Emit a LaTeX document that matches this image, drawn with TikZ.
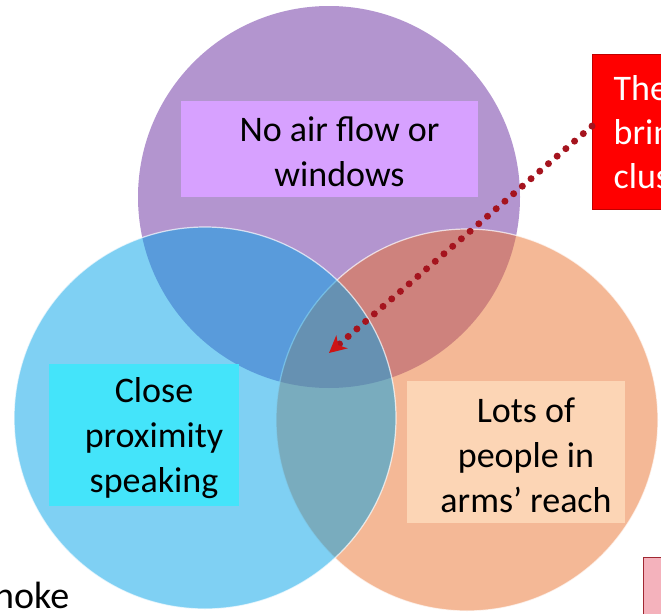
\documentclass[tikz,border=0pt]{standalone}
\usepackage{fontspec}
\setmainfont{Carlito}
\usepackage{tikz}
\usetikzlibrary{arrows.meta,positioning}
\definecolor{airfill}{RGB}{179,149,207}
\definecolor{crowdfill}{RGB}{233,113,45}
\definecolor{speakfill}{RGB}{0,161,231}
\definecolor{airboxfill}{RGB}{215,161,255}
\definecolor{speakboxfill}{RGB}{68,228,250}
\definecolor{crowdboxfill}{RGB}{252,213,181}
\definecolor{notered}{RGB}{255,0,0}
\definecolor{notedark}{RGB}{192,0,0}
\definecolor{pinkfill}{RGB}{244,178,188}
\definecolor{pinkdark}{RGB}{160,40,50}
\definecolor{dotred}{RGB}{165,20,30}
\definecolor{tipred}{RGB}{205,20,20}

\begin{document}
\begin{tikzpicture}[x=1pt, y=-1pt,
    bigfont/.style={font=\fontsize{36}{45}\selectfont},
    labelbox/.style={inner sep=0pt},
    venntext/.style={bigfont, align=center, xshift=10pt, yshift=-3pt},
    circleedge/.style={fill opacity=0.5, draw=white, draw opacity=0.7, line width=1.2pt}]
    \useasboundingbox (0,0) rectangle (661,613);
    \clip (0,0) rectangle (661,613);

    % Three circles
    \fill[airfill] (329,197) circle[radius=191pt];
    \path[circleedge, fill=crowdfill] (467,420) circle[radius=191pt];
    \path[circleedge, fill=speakfill] (205,418) circle[radius=191pt];

    % Label boxes
    \node[labelbox, fill=airboxfill, minimum width=297pt, minimum height=96pt] (airbox) at (329.5,149) {};
    \node[venntext] (airtext) at (airbox.center) {No air flow or\\windows};

    \node[labelbox, fill=speakboxfill, minimum width=190pt, minimum height=142pt] (speakbox) at (144,435) {};
    \node[venntext] (speaktext) at (speakbox.center) {Close\\proximity\\speaking};

    \node[labelbox, fill=crowdboxfill, minimum width=218pt, minimum height=142pt] (crowdbox) at (516,452) {};
    \node[venntext] (crowdtext) at (crowdbox.center) {Lots of\\people in\\arms’ reach};

    % Notes cut by the edge
    \node[draw=notedark, line width=1.2pt, fill=notered, text=white, anchor=north west,
        text width=100pt, inner xsep=21pt, minimum height=155pt, align=left,
        font=\fontsize{36}{44}\selectfont] (note) at (592,54) {The\\brin\\clus};
    \node[draw=pinkdark, line width=1.2pt, fill=pinkfill, anchor=north west,
        minimum width=60pt, minimum height=80pt] (pinknote) at (643,557) {};
    \node[font=\fontsize{38}{45}\selectfont, anchor=base west, inner sep=0pt] (smoke) at (-6,608) {noke};

    % Dotted arrow into the middle
    \coordinate (hotspot) at (329,353);
    \draw[dotred, line width=7pt, line cap=round, dash pattern=on 0pt off 11.5pt,
        -{Stealth[length=17pt, width=17pt, inset=5pt, color=tipred]}]
        ([yshift=6pt]note.west) -- (hotspot);
\end{tikzpicture}
\end{document}
